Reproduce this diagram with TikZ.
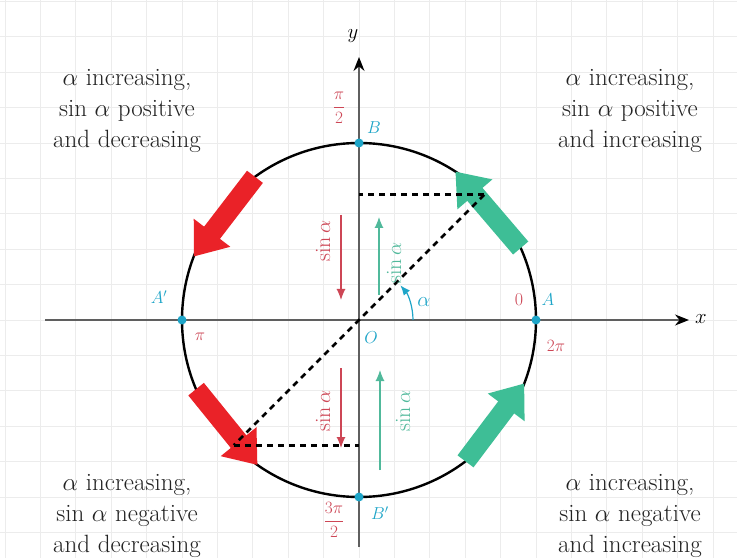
\documentclass[tikz,border=0pt]{standalone}
\usetikzlibrary{arrows.meta,calc}
\definecolor{cred}{RGB}{234,34,40}
\definecolor{cgreen}{RGB}{62,190,150}
\definecolor{tred}{RGB}{205,70,85}
\definecolor{tgreen}{RGB}{80,185,155}
\definecolor{tcyan}{RGB}{30,165,200}
\definecolor{gridc}{RGB}{236,236,236}
\definecolor{axisc}{RGB}{95,95,95}
\definecolor{quadc}{RGB}{35,35,35}
\begin{document}
\begin{tikzpicture}[x=1pt,y=1pt,
  quad/.style={align=center,font=\fontsize{25}{31}\selectfont,text=quadc},
  lbl/.style={font=\fontsize{18}{20}\selectfont},
  fat/.style={line width=20pt,-{Triangle[width=44pt,length=30pt]}},
  dsh/.style={line width=2.8pt,dash pattern=on 6pt off 5pt},
  smallarr/.style={line width=1.2pt,-{Latex[width=9pt,length=11pt]}},
  sinlbl/.style={rotate=90,font=\fontsize{22}{24}\selectfont},
  axis/.style={axisc,line width=1.4pt,-{Stealth[length=14pt,width=11pt,black]}},
  pt/.style={circle,fill=tcyan,inner sep=0pt,minimum size=9pt}]
\useasboundingbox (0,0) rectangle (737,558);
\fill[white] (0,0) rectangle (737,558);
% grid
\foreach \k in {-10,...,10} \draw[gridc,line width=0.8pt] ({359+35.4*\k},0) -- ++(0,558);
\foreach \k in {-7,...,9} \draw[gridc,line width=0.8pt] (0,{238+35.4*\k}) -- ++(737,0);
% coordinates
\coordinate (O) at (359,238);
\coordinate (xl) at (45,238);
\coordinate (xr) at (689,238);
\coordinate (yb) at (359,11);
\coordinate (yt) at (359,501);
% axes
\draw[axis] (xl) -- (xr);
\draw[axis] (yb) -- (yt);
% circle
\draw[black,line width=2.4pt] (O) circle (177);
% fat arrows
\coordinate (r1s) at ($(O)+(126:177)$);
\coordinate (r1e) at ($(O)+(159:177)$);
\coordinate (r2s) at ($(O)+(203:177)$);
\coordinate (r2e) at ($(O)+(235:177)$);
\coordinate (g1s) at ($(O)+(24:177)$);
\coordinate (g1e) at ($(O)+(57:177)$);
\coordinate (g2s) at ($(O)+(307:177)$);
\coordinate (g2e) at ($(O)+(339:177)$);
\draw[fat,cred] (r1s) -- (r1e);
\draw[fat,cred] (r2s) -- (r2e);
\draw[fat,cgreen] (g1s) -- (g1e);
\draw[fat,cgreen] (g2s) -- (g2e);
% dashed construction
\coordinate (P) at ($(O)+(45:177)$);
\coordinate (Q) at ($(O)+(225:177)$);
\coordinate (Py) at (359,{238+177*sin(45)});
\coordinate (Qy) at (359,{238-177*sin(45)});
\draw[dsh] (P) -- (Q);
\draw[dsh] (P) -- (Py);
\draw[dsh] (Q) -- (Qy);
% small sin arrows
\coordinate (ra1) at (341,343); \coordinate (rb1) at (341,258);
\coordinate (ga1) at (379,263); \coordinate (gb1) at (379,341);
\coordinate (ra2) at (341,190); \coordinate (rb2) at (341,110);
\coordinate (ga2) at (380,88);  \coordinate (gb2) at (380,188);
\draw[smallarr,tred] (ra1) -- (rb1);
\draw[smallarr,tgreen] (ga1) -- (gb1);
\draw[smallarr,tred] (ra2) -- (rb2);
\draw[smallarr,tgreen] (ga2) -- (gb2);
\node[sinlbl,text=tred] (s1) at (323,317) {sin\,$\alpha$};
\node[sinlbl,text=tgreen] (s2) at (394,295) {sin\,$\alpha$};
\node[sinlbl,text=tred] (s3) at (323,147) {sin\,$\alpha$};
\node[sinlbl,text=tgreen] (s4) at (403,147) {sin\,$\alpha$};
% angle alpha
\coordinate (al0) at ($(O)+(0:54)$);
\draw[tcyan,line width=1.2pt,-{Latex[length=10pt,width=8pt]}] (al0) arc (0:40:54);
\node[font=\fontsize{20}{22}\selectfont,text=tcyan] (alab) at (424,256) {$\alpha$};
% points
\node[pt] (A) at ($(O)+(0:177)$) {};
\node[pt] (A1) at ($(O)+(180:177)$) {};
\node[pt] (B) at ($(O)+(90:177)$) {};
\node[pt] (B1) at ($(O)+(270:177)$) {};
% labels
\node[lbl,text=tcyan] (Al) at (548,258) {$A$};
\node[lbl,text=tred] (zl) at (519,258) {0};
\node[lbl,text=tred] (tpl) at (556,212) {$2\pi$};
\node[lbl,text=tcyan] (A1l) at (159,261) {$A'$};
\node[lbl,text=tred] (pil) at (200,221) {$\pi$};
\node[lbl,text=tcyan] (Ol) at (371,220) {$O$};
\node[lbl,text=tcyan] (Bl) at (374,430) {$B$};
\node[lbl,text=tred] (hpl) at (339,450) {$\displaystyle\frac{\pi}{2}$};
\node[lbl,text=tcyan] (B1l) at (380,45) {$B'$};
\node[lbl,text=tred] (tpl2) at (334,38) {$\displaystyle\frac{3\pi}{2}$};
\node[font=\fontsize{22}{24}\selectfont,text=black] (yl) at (353,522) {$y$};
\node[font=\fontsize{22}{24}\selectfont,text=black] (xlab) at (701,239) {$x$};
% quadrant texts
\node[quad] (tl) at (127,447) {$\alpha$ increasing,\\ sin $\alpha$ positive\\ and decreasing};
\node[quad] (tr) at (630,447) {$\alpha$ increasing,\\ sin $\alpha$ positive\\ and increasing};
\node[quad] (bl) at (127,42) {$\alpha$ increasing,\\ sin $\alpha$ negative\\ and decreasing};
\node[quad] (br) at (630,42) {$\alpha$ increasing,\\ sin $\alpha$ negative\\ and increasing};
\end{tikzpicture}
\end{document}
